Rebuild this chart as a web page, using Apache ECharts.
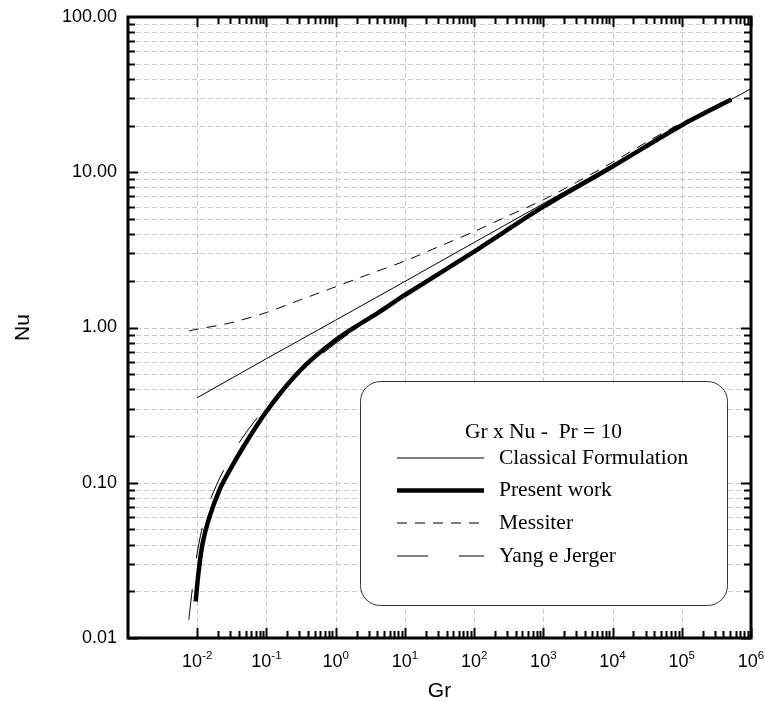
<!DOCTYPE html>
<html><head><meta charset="utf-8">
<script src="https://cdn.jsdelivr.net/npm/echarts@6/dist/echarts.min.js"></script>
<style>html,body{margin:0;padding:0;background:#fff}#c{width:765px;height:702px}</style>
</head><body><div id="c"></div>
<script>
// ---- data ----
const classicalGr = [0.01, 0.1, 1, 10, 100, 1000, 1e4, 1e5, 1e6];
const classicalNu = [0.353, 0.63, 1.115, 1.98, 3.53, 6.28, 11.15, 19.8, 34.5];

const presentGr = [0.0095, 0.0105, 0.012, 0.015, 0.021, 0.03, 0.0456, 0.0887, 0.173, 0.376, 1, 1.87, 4.3, 10, 100, 1000, 1e4, 1e5, 5.2e5];
const presentNu = [0.0172, 0.027, 0.041, 0.06, 0.09, 0.122, 0.168, 0.267, 0.396, 0.578, 0.83, 1.0, 1.26, 1.62, 3.08, 6.0, 10.9, 20.1, 29.4];

const messiterGr = [0.0076, 0.01, 0.03, 0.1, 0.3, 1, 3, 10, 30, 100, 300, 1000, 3000, 1e4, 3e4, 1e5, 5.2e5];
const messiterNu = [0.95, 0.975, 1.07, 1.25, 1.5, 1.83, 2.2, 2.68, 3.3, 4.15, 5.2, 6.65, 8.6, 11.6, 15.5, 20.8, 29.8];

const yangGr = [0.00756, 0.00847, 0.0097, 0.0118, 0.0159, 0.024, 0.04, 0.074, 0.146, 0.307, 0.675, 1.5, 3.56, 10, 100, 1000, 1e4, 1e5, 5.2e5];
const yangNu = [0.0131, 0.0205, 0.0327, 0.051, 0.08, 0.12, 0.18, 0.263, 0.373, 0.507, 0.689, 0.904, 1.2, 1.66, 3.13, 6.08, 11.0, 20.3, 29.6];

const xTickExponents = [-3, -2, -1, 0, 1, 2, 3, 4, 5, 6];
const yTickLabels = ['0.01', '0.10', '1.00', '10.00', '100.00'];
const seriesNames = ['Classical Formulation', 'Present work', 'Messiter', 'Yang e Jerger'];
const legendTitle = 'Gr x Nu -  Pr = 10';
const xName = 'Gr';
const yName = 'Nu';

// ---- helpers ----
function pairs(xs, ys) { return xs.map((x, i) => [x, ys[i]]); }
const SANS = 'Liberation Sans';
const SERIF = 'Liberation Serif';

// tick / grid values (1..9 x decade)
const yGridValues = [];
for (let d = -2; d <= 1; d++) for (let m = 1; m <= 9; m++) yGridValues.push(m * Math.pow(10, d));
const xMinorValues = [];
for (let d = -2; d <= 5; d++) for (let m = 2; m <= 9; m++) xMinorValues.push(m * Math.pow(10, d));
const xMajorValues = xTickExponents.map(e => Math.pow(10, e));
const yMajorValues = [0.01, 0.1, 1, 10, 100];

function frameRender(params, api) {
  const a = api.coord([1e-3, 0.01]);
  const b = api.coord([1e6, 100]);
  const L = a[0], B = a[1], R = b[0], T = b[1];
  const kids = [];
  const gs = { stroke: '#c8c8c8', lineWidth: 1, lineDash: [5, 3] };
  const ts = { stroke: '#000', lineWidth: 2 };
  function ln(x1, y1, x2, y2, st) { kids.push({ type: 'line', shape: { x1, y1, x2, y2 }, style: st }); }
  yGridValues.forEach(v => {
    const y = Math.round(api.coord([1, v])[1]) + 0.5;
    if (v > 0.011) ln(L, y, R, y, gs);
    const major = yMajorValues.some(m => Math.abs(m - v) / m < 1e-6);
    const len = major ? 10 : 7;
    ln(L, y, L + len, y, ts);
    ln(R, y, R - len, y, ts);
  });
  xMajorValues.forEach(v => {
    const x = Math.round(api.coord([v, 1])[0]) + 0.5;
    if (v > 0.0011 && v < 0.9e6) ln(x, T, x, B, gs);
    if (v > 0.0011) {
      ln(x, B, x, B - 10, ts);
      ln(x, T, x, T + 10, ts);
    }
  });
  xMinorValues.forEach(v => {
    const x = Math.round(api.coord([v, 1])[0]) + 0.5;
    ln(x, B, x, B - 7, ts);
    ln(x, T, x, T + 7, ts);
  });
  return { type: 'group', children: kids };
}

const chart = echarts.init(document.getElementById('c'), null, { renderer: 'canvas' });

const box = { x: 360, y: 381, w: 367, h: 224 };
const rowY = [458, 490.5, 523, 556];
const lineStyles = [
  { stroke: '#000', lineWidth: 1 },
  { stroke: '#000', lineWidth: 4.5 },
  { stroke: '#000', lineWidth: 1, lineDash: [10, 8] },
  { stroke: '#000', lineWidth: 1, lineDash: [31, 31] }
];
const graphics = [
  { type: 'rect', z: 50, shape: { x: box.x + 0.5, y: box.y + 0.5, width: box.w, height: box.h, r: 20 },
    style: { fill: '#fff', stroke: '#333', lineWidth: 1 } },
  { type: 'text', z: 51, x: 543.5, y: 432.5,
    style: { text: legendTitle, font: '21.5px "' + SERIF + '"', fill: '#000', textAlign: 'center', textVerticalAlign: 'middle' } }
];
seriesNames.forEach((n, i) => {
  graphics.push({ type: 'line', z: 51, shape: { x1: 397, y1: rowY[i], x2: 484, y2: rowY[i] }, style: lineStyles[i] });
  graphics.push({ type: 'text', z: 51, x: 499, y: rowY[i],
    style: { text: n, font: '21.5px "' + SERIF + '"', fill: '#000', textAlign: 'left', textVerticalAlign: 'middle' } });
});

const option = {
  animation: false,
  backgroundColor: '#fff',
  grid: { left: 128, top: 17, width: 623, height: 621, show: true, borderColor: '#000', borderWidth: 3,
          backgroundColor: 'transparent', containLabel: false, outerBoundsMode: 'none' },
  xAxis: {
    type: 'log', logBase: 10, min: 1e-3, max: 1e6, splitNumber: 9,
    name: xName, nameLocation: 'middle', nameGap: 43,
    nameTextStyle: { fontFamily: SANS, fontSize: 21, color: '#000' },
    axisLine: { show: false }, axisTick: { show: false }, splitLine: { show: false },
    axisLabel: {
      margin: 12, showMinLabel: true, showMaxLabel: true,
      formatter: function (v) {
        const e = Math.round(Math.log10(v));
        if (xTickExponents.indexOf(e) < 1) return '';
        return '{b|10}{s|' + e + '}';
      },
      rich: {
        b: { fontFamily: SANS, fontSize: 18, color: '#000', verticalAlign: 'bottom', lineHeight: 18 },
        s: { fontFamily: SANS, fontSize: 11.5, color: '#000', verticalAlign: 'bottom', padding: [0, 0, 9, 0] }
      }
    }
  },
  yAxis: {
    type: 'log', logBase: 10, min: 0.01, max: 100, splitNumber: 4,
    name: yName, nameLocation: 'middle', nameGap: 94, nameRotate: 90,
    nameTextStyle: { fontFamily: SANS, fontSize: 21, color: '#000' },
    axisLine: { show: false }, axisTick: { show: false }, splitLine: { show: false },
    axisLabel: {
      margin: 11, fontFamily: SANS, fontSize: 18, color: '#000',
      formatter: function (v) {
        const e = Math.round(Math.log10(v));
        return yTickLabels[e + 2] || '';
      }
    }
  },
  graphic: graphics,
  series: [
    { type: 'custom', renderItem: frameRender, data: [[1, 1]], silent: true, z: 1, clip: false },
    { name: seriesNames[0], type: 'line', data: pairs(classicalGr, classicalNu), symbol: 'none',
      lineStyle: { color: '#000', width: 1 }, z: 3 },
    { name: seriesNames[1], type: 'line', data: pairs(presentGr, presentNu), symbol: 'none', smooth: 0.3,
      lineStyle: { color: '#000', width: 4.5 }, z: 4 },
    { name: seriesNames[2], type: 'line', data: pairs(messiterGr, messiterNu), symbol: 'none', smooth: 0.3,
      lineStyle: { color: '#000', width: 1, type: [10, 8] }, z: 3 },
    { name: seriesNames[3], type: 'line', data: pairs(yangGr, yangNu), symbol: 'none', smooth: 0.3,
      lineStyle: { color: '#000', width: 1, type: [31, 31] }, z: 3 }
  ]
};
chart.setOption(option);
</script>
</body></html>
